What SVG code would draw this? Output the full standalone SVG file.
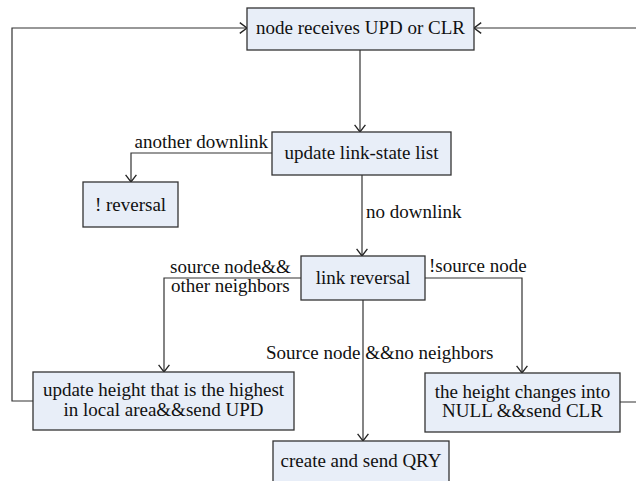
<svg xmlns="http://www.w3.org/2000/svg" width="636" height="481" viewBox="0 0 636 481">
<defs>
<marker id="arr" markerUnits="userSpaceOnUse" markerWidth="12" markerHeight="12" viewBox="-7 -5 8 10" refX="0" refY="0" orient="auto">
<path d="M-6,-4.5 L0,0 L-6,4.5" fill="none" stroke="#222" stroke-width="1.1"/>
</marker>
<style>
.box{fill:#e8eef8;stroke:#333;stroke-width:1.3}
.t{font-size:19px;fill:#111}
.c{text-anchor:middle}
.ln{fill:none;stroke:#333;stroke-width:1.2;marker-end:url(#arr)}
</style>
</defs>
<rect width="636" height="481" fill="#fff"/>
<g id="connectors" font-family="'Liberation Serif', 'DejaVu Serif', serif">
<path class="ln" d="M33,401 H12 V28 H247"/>
<path class="ln" d="M620,402 H645 V28 H474"/>
<path class="ln" d="M360,50 V132"/>
<path class="ln" d="M272,153 H131 V182"/>
<path class="ln" d="M362,175 V256"/>
<path class="ln" d="M301,278 H164 V372"/>
<path class="ln" d="M425,278 H522 V373"/>
<path class="ln" d="M363,300 V441"/>
<text class="t" x="268" y="148" text-anchor="end">another downlink</text>
<text class="t" x="366" y="218">no downlink</text>
<text class="t" x="170" y="273">source node&amp;&amp;</text>
<text class="t" x="171" y="292">other neighbors</text>
<text class="t" x="429" y="272">!source node</text>
<text class="t" x="266" y="359">Source node &amp;&amp;no neighbors</text>
</g>
<g font-family="'Liberation Serif', 'DejaVu Serif', serif">
<g id="n1"><rect class="box" x="247" y="8" width="227" height="42"/><text class="t c" x="360.5" y="34">node receives UPD or CLR</text></g>
<g id="n2"><rect class="box" x="272" y="132" width="179" height="43"/><text class="t c" x="361.5" y="159">update link-state list</text></g>
<g id="n3"><rect class="box" x="83" y="182" width="95" height="45"/><text class="t c" x="130.5" y="211">! reversal</text></g>
<g id="n4"><rect class="box" x="301" y="256" width="124" height="44"/><text class="t c" x="363" y="284">link reversal</text></g>
<g id="n5"><rect class="box" x="33" y="372" width="261" height="58"/><text class="t c" x="163.5" y="396">update height that is the highest</text><text class="t c" x="163.5" y="416">in local area&amp;&amp;send UPD</text></g>
<g id="n6"><rect class="box" x="425" y="373" width="195" height="59"/><text class="t c" x="522.5" y="398">the height changes into</text><text class="t c" x="522.5" y="417">NULL &amp;&amp;send CLR</text></g>
<g id="n7"><rect class="box" x="273" y="441" width="176" height="50"/><text class="t c" x="361" y="467">create and send QRY</text></g>
</g>
</svg>
